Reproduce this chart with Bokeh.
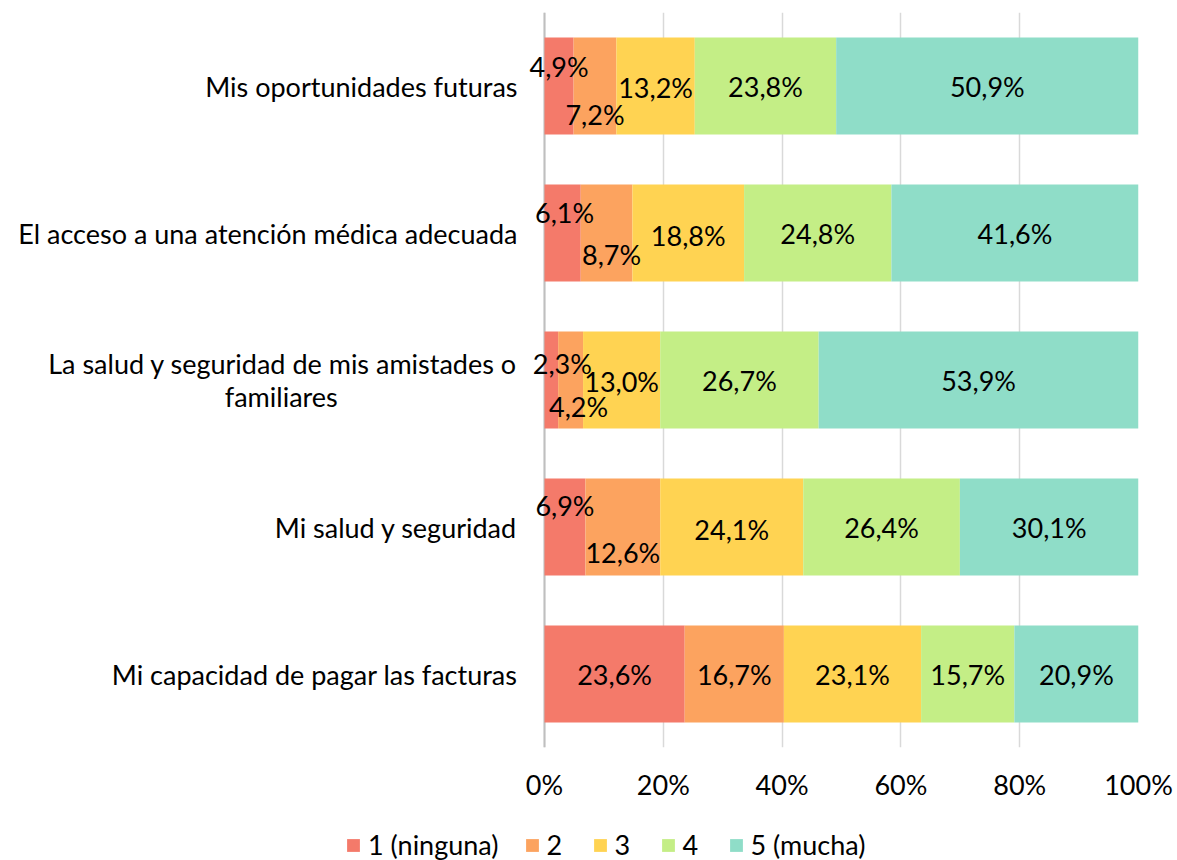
from bokeh.plotting import figure
from bokeh.layouts import column
from bokeh.models import ColumnDataSource, FixedTicker, Range1d, Legend, LegendItem, LabelSet, Span
from bokeh.embed import file_html
from bokeh.resources import INLINE
from bokeh.core.properties import value

# ---- data ----
categories = [
    "Mi capacidad de pagar las facturas",
    "Mi salud y seguridad",
    "La salud y seguridad de mis amistades o\nfamiliares",
    "El acceso a una atención médica adecuada",
    "Mis oportunidades futuras",
]
series_names = ["1 (ninguna)", "2", "3", "4", "5 (mucha)"]
s1 = [23.6, 6.9, 2.3, 6.1, 4.9]
s2 = [16.7, 12.6, 4.2, 8.7, 7.2]
s3 = [23.1, 24.1, 13.0, 18.8, 13.2]
s4 = [15.7, 26.4, 26.7, 24.8, 23.8]
s5 = [20.9, 30.1, 53.9, 41.6, 50.9]
x_ticks = [0, 20, 40, 60, 80, 100]
x_tick_labels = ["0%", "20%", "40%", "60%", "80%", "100%"]

# ---- styles ----
colors = ["#F47A6A", "#FCA35F", "#FFD352", "#C4EE86", "#8FDDC8"]
FONT = "Lato"
FS = "27px"
X_START = -4.04          # small empty margin left of 0% so outer labels are not clipped
# label offsets in pixels (screen, +down / +right), per series per category
label_dy = [
    [0, -22, -17, -21, -20],
    [0, 25, 26, 21, 28],
    [0, 2, 1, 2, 1],
    [0, 0, 0, 0, 0],
    [0, 0, 0, 0, 0],
]
label_dx = [
    [0, 0, 11, 2, 0],
    [0, 0, 8, 5, 0],
    [0, 0, 0, 0, 0],
    [0, 0, 0, 0, 0],
    [0, 0, 0, 0, 0],
]

series = [s1, s2, s3, s4, s5]
keys = ["s1", "s2", "s3", "s4", "s5"]
n = len(categories)
totals = [sum(s[i] for s in series) for i in range(n)]
norm = [[s[i] * 100.0 / totals[i] for i in range(n)] for s in series]

# visually centre the second line of the wrapped category label
cat_labels = []
for c in categories:
    if "\n" in c:
        a, b = c.split("\n")
        pad = int(round((len(a) - len(b)) * 0.5 * 1.8))
        c = a + "\n" + b + "\u00a0" * pad
    cat_labels.append(c)

data = {"y": list(range(n))}
for k, s in zip(keys, norm):
    data[k] = s
source = ColumnDataSource(data)

p = figure(
    frame_width=618, frame_height=735,
    min_border_left=520, min_border_right=39, min_border_top=12, min_border_bottom=66,
    x_range=Range1d(X_START, 100), y_range=Range1d(-0.5, n - 0.5),
    output_backend="svg", toolbar_location=None,
)
p.frame_align = False
p.outline_line_color = None
p.background_fill_color = "white"

renderers = p.hbar_stack(keys, y="y", height=0.66, color=colors, line_color=None, source=source)

# 0% axis line
p.add_layout(Span(location=0, dimension="height", line_color="#BFBFBF", line_width=2, level="underlay"))

# data labels
lx, ly, lt, ldy, ldx = [], [], [], [], []
for j, s in enumerate(norm):
    for i in range(n):
        left = sum(norm[k][i] for k in range(j))
        lx.append(left + s[i] / 2.0)
        ly.append(i)
        lt.append(f"{series[j][i]:.1f}".replace(".", ",") + "%")
        ldy.append(-label_dy[j][i])
        ldx.append(label_dx[j][i])
lsrc = ColumnDataSource(dict(x=lx, y=ly, t=lt, dy=ldy, dx=ldx))
labels = LabelSet(x="x", y="y", text="t", x_offset="dx", y_offset="dy", source=lsrc,
                  text_align="center", text_baseline="middle",
                  text_font=value(FONT), text_font_size=value(FS), text_color="black")
p.add_layout(labels)

# axes
p.xaxis.ticker = FixedTicker(ticks=x_ticks)
p.xaxis.major_label_overrides = {t: l for t, l in zip(x_ticks, x_tick_labels)}
p.xaxis.axis_line_color = None
p.xaxis.major_tick_line_color = None
p.xaxis.major_tick_out = 0
p.xaxis.major_tick_in = 0
p.xaxis.minor_tick_line_color = None
p.xaxis.major_label_standoff = 20
p.xaxis.major_label_text_font = FONT
p.xaxis.major_label_text_font_size = FS
p.xaxis.major_label_text_color = "black"

p.yaxis.ticker = FixedTicker(ticks=list(range(n)))
p.yaxis.major_label_overrides = {i: c for i, c in enumerate(cat_labels)}
p.yaxis.axis_line_color = None
p.yaxis.major_tick_line_color = None
p.yaxis.major_tick_out = 0
p.yaxis.major_tick_in = 0
p.yaxis.minor_tick_line_color = None
p.yaxis.major_label_standoff = 3
p.yaxis.major_label_text_font = FONT
p.yaxis.major_label_text_font_size = FS
p.yaxis.major_label_text_color = "black"
p.yaxis.major_label_text_line_height = 1.0

p.xgrid.grid_line_color = "#D9D9D9"
p.xgrid.grid_line_width = 1.5
p.ygrid.grid_line_color = None

# legend strip (separate figure below the chart; its bars lie outside its view)
leg = figure(
    width=1177, height=47, min_border=0,
    x_range=Range1d(0, 100), y_range=Range1d(n + 10, n + 11),
    x_axis_location=None, y_axis_location=None,
    output_backend="svg", toolbar_location=None,
)
leg.frame_align = False
leg.outline_line_color = None
leg.grid.grid_line_color = None
leg_rs = leg.hbar_stack(keys, y="y", height=0.66, color=colors, line_color=None, source=source)
legend = Legend(
    items=[LegendItem(label=nm, renderers=[r]) for nm, r in zip(series_names, leg_rs)],
    orientation="horizontal", location=(345, -1),
    label_text_font=FONT, label_text_font_size=FS, label_text_color="black",
    glyph_width=16, glyph_height=16, label_standoff=7, spacing=25,
    border_line_color=None, background_fill_alpha=0, padding=0, margin=0,
)
leg.add_layout(legend, "center")

layout = column(p, leg, spacing=0)
open("out.html", "w").write(file_html(layout, INLINE))
